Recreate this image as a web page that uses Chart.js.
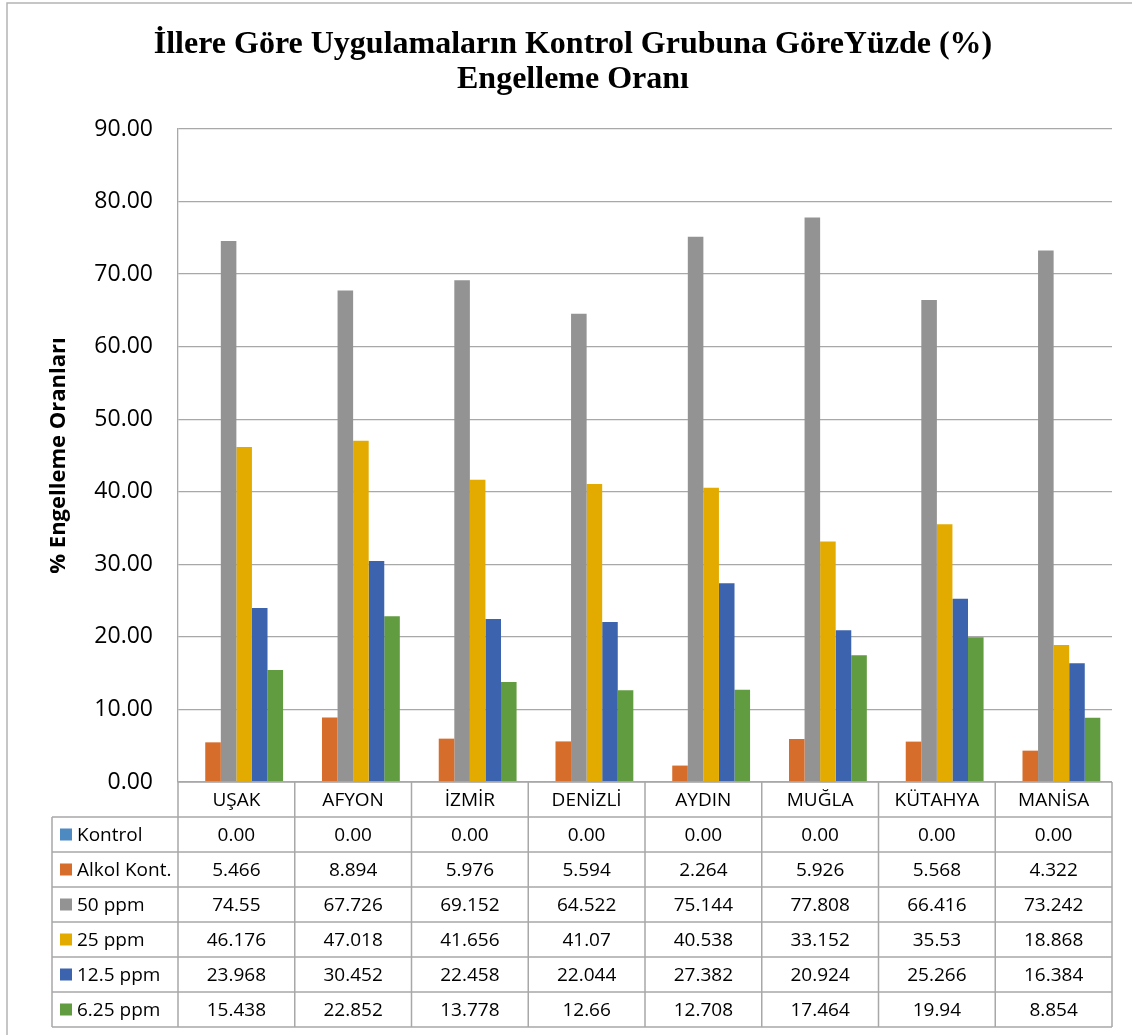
<!DOCTYPE html>
<html>
<head>
<meta charset="utf-8">
<script src="https://cdn.jsdelivr.net/npm/chart.js@4.4.1/dist/chart.umd.min.js"></script>
<style>
  html, body { margin: 0; padding: 0; background: #ffffff; }
  #wrap { width: 1132px; height: 1035px; position: relative; }
</style>
</head>
<body>
<div id="wrap"><canvas id="chart" width="1132" height="1035"></canvas></div>
<script>
// Chart text
const titleLines = ['İllere Göre Uygulamaların Kontrol Grubuna GöreYüzde (%)', 'Engelleme Oranı'];
const yAxisTitle = '% Engelleme Oranları';

// Provinces (categories)
const categories = ['UŞAK', 'AFYON', 'İZMİR', 'DENİZLİ', 'AYDIN', 'MUĞLA', 'KÜTAHYA', 'MANİSA'];

// Series names
const seriesNames = ['Kontrol', 'Alkol Kont.', '50 ppm', '25 ppm', '12.5 ppm', '6.25 ppm'];

// Inhibition rates (%) per province
const kontrol   = [0, 0, 0, 0, 0, 0, 0, 0];
const alkolKont = [5.466, 8.894, 5.976, 5.594, 2.264, 5.926, 5.568, 4.322];
const ppm50     = [74.55, 67.726, 69.152, 64.522, 75.144, 77.808, 66.416, 73.242];
const ppm25     = [46.176, 47.018, 41.656, 41.07, 40.538, 33.152, 35.53, 18.868];
const ppm12_5   = [23.968, 30.452, 22.458, 22.044, 27.382, 20.924, 25.266, 16.384];
const ppm6_25   = [15.438, 22.852, 13.778, 12.66, 12.708, 17.464, 19.94, 8.854];

// Value axis range
const yMin = 0, yMax = 90, yStep = 10;

const seriesValues = [kontrol, alkolKont, ppm50, ppm25, ppm12_5, ppm6_25];
const seriesColors = ['#4E8AC2', '#D76D2B', '#939393', '#E3AB00', '#3C63AE', '#629C40'];

const gridColor = '#a8a8a8';
const textFont = "'Open Sans', 'Noto Sans', sans-serif";

// Numbers in the data table: zero rows shown with two decimals
const cellText = v => (v === 0 ? v.toFixed(2) : String(v));

// Outer frame and two-line title
const framePlugin = {
  id: 'frameAndTitle',
  afterDraw(chart) {
    const ctx = chart.ctx;
    ctx.save();
    ctx.strokeStyle = '#b4b4b4';
    ctx.lineWidth = 1.5;
    ctx.beginPath();
    ctx.moveTo(7, 1035);
    ctx.lineTo(7, 3);
    ctx.lineTo(1132, 3);
    ctx.stroke();

    ctx.fillStyle = '#000000';
    ctx.font = "bold 32px 'Liberation Serif', 'Times New Roman', serif";
    ctx.textAlign = 'center';
    ctx.textBaseline = 'middle';
    ctx.fillText(titleLines[0], 573, 45);
    ctx.fillText(titleLines[1], 573, 80);
    ctx.restore();
  }
};

// Data table under the plot, aligned to the category scale
const tablePlugin = {
  id: 'dataTable',
  afterDraw(chart) {
    const ctx = chart.ctx;
    const area = chart.chartArea;
    const xs = chart.scales.x;
    const n = categories.length;
    const edges = [area.left];
    for (let i = 0; i < n - 1; i++) {
      edges.push((xs.getPixelForValue(i) + xs.getPixelForValue(i + 1)) / 2);
    }
    edges.push(area.right);

    const rowH = 35;
    const top = area.bottom;
    const legendLeft = 52;
    const rows = chart.data.datasets.length;
    const bottom = top + rowH * (rows + 1);

    ctx.save();
    ctx.strokeStyle = gridColor;
    ctx.lineWidth = 1.5;
    ctx.beginPath();
    // header top line
    ctx.moveTo(area.left, top);
    ctx.lineTo(area.right, top);
    // row lines
    for (let r = 1; r <= rows + 1; r++) {
      const y = top + rowH * r;
      ctx.moveTo(legendLeft, y);
      ctx.lineTo(area.right, y);
    }
    // column lines
    edges.forEach(x => {
      ctx.moveTo(x, top);
      ctx.lineTo(x, bottom);
    });
    ctx.moveTo(legendLeft, top + rowH);
    ctx.lineTo(legendLeft, bottom);
    ctx.stroke();

    ctx.fillStyle = '#000000';
    ctx.textBaseline = 'middle';
    ctx.textAlign = 'center';
    ctx.font = '19px ' + textFont;
    for (let i = 0; i < n; i++) {
      const cx = (edges[i] + edges[i + 1]) / 2;
      ctx.fillText(categories[i], cx, top + rowH / 2 + 1);
    }

    chart.data.datasets.forEach((ds, r) => {
      const cy = top + rowH * (r + 1) + rowH / 2 + 1;
      ctx.fillStyle = ds.backgroundColor;
      ctx.fillRect(60, cy - 7, 12, 12);
      ctx.fillStyle = '#000000';
      ctx.textAlign = 'left';
      ctx.fillText(ds.label, 77, cy);
      ctx.textAlign = 'center';
      ds.data.forEach((v, i) => {
        const cx = (edges[i] + edges[i + 1]) / 2;
        ctx.fillText(cellText(v), cx, cy);
      });
    });
    ctx.restore();
  }
};

const datasets = seriesNames.map((name, k) => ({
  label: name,
  data: seriesValues[k],
  backgroundColor: seriesColors[k],
  borderWidth: 0,
  categoryPercentage: 0.8,
  barPercentage: 1.0
}));

new Chart(document.getElementById('chart'), {
  type: 'bar',
  data: { labels: categories, datasets: datasets },
  options: {
    responsive: false,
    animation: false,
    devicePixelRatio: 1,
    layout: { padding: { top: 129, right: 20, bottom: 253, left: 0 } },
    plugins: {
      legend: { display: false },
      tooltip: { enabled: false },
      title: { display: false }
    },
    scales: {
      x: {
        display: false
      },
      y: {
        min: yMin,
        max: yMax,
        ticks: {
          stepSize: yStep,
          padding: 25,
          color: '#000000',
          font: { family: textFont, size: 23 },
          callback: v => Number(v).toFixed(2)
        },
        grid: { color: gridColor, lineWidth: 1.3, drawTicks: false },
        border: { display: true, color: gridColor, width: 1.3 },
        title: {
          display: true,
          text: yAxisTitle,
          color: '#000000',
          font: { family: textFont, size: 22, weight: 'bold' },
          padding: { top: 46, bottom: 0 }
        },
        afterFit(scale) { scale.width = 178; }
      }
    }
  },
  plugins: [framePlugin, tablePlugin]
});
</script>
</body>
</html>
